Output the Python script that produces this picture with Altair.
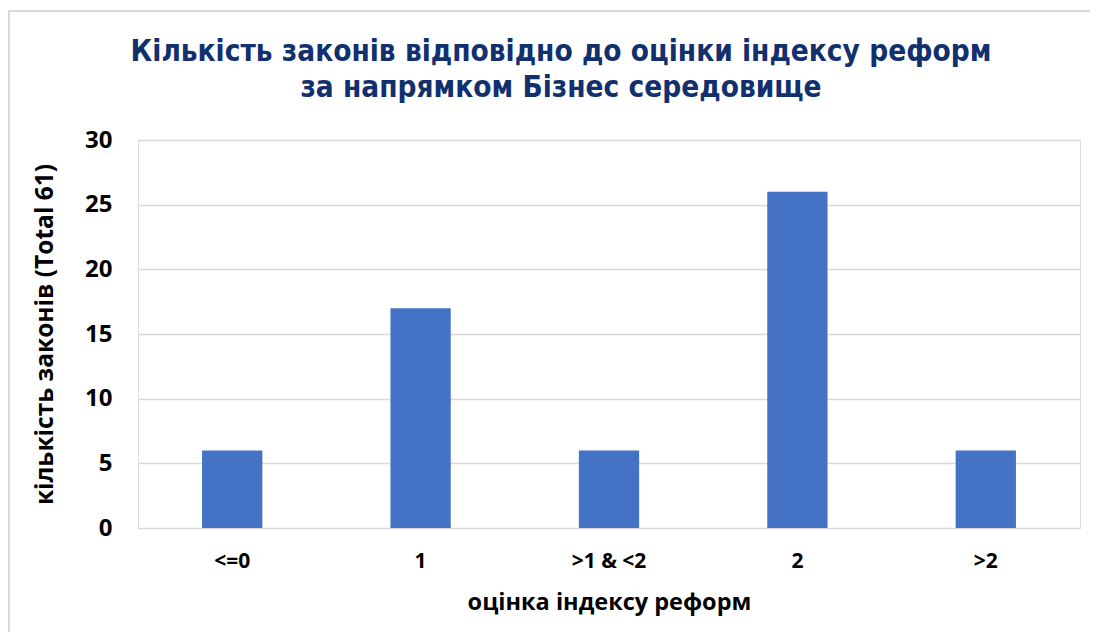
import altair as alt
import pandas as pd

categories = ["<=0", "1", ">1 & <2", "2", ">2"]
counts = [6, 17, 6, 26, 6]
title_lines = [
    "Кількість законів відповідно до оцінки індексу реформ",
    "за напрямком Бізнес середовище",
]

df = pd.DataFrame({"cat": categories, "n": counts})

LABEL_FONT = "Open Sans"
TITLE_FONT = "DejaVu Sans Condensed, Liberation Sans, sans-serif"
W, H = 942, 388
PAD = {"left": 130, "top": 132, "right": 10, "bottom": 104}

bars = alt.Chart(df).mark_bar(color="#4472C4").encode(
    x=alt.X(
        "cat:N",
        sort=categories,
        scale=alt.Scale(paddingInner=0.68, paddingOuter=0.34),
        axis=alt.Axis(
            title="оцінка індексу реформ",
            labelAngle=0,
            domain=False,
            ticks=False,
            grid=False,
            labelPadding=22,
            titlePadding=19,
            labelFont=LABEL_FONT,
            labelFontSize=21,
            labelFontWeight="bold",
            labelColor="#000000",
            titleFont=LABEL_FONT,
            titleFontSize=23.5,
            titleFontWeight="bold",
            titleColor="#000000",
        ),
    ),
    y=alt.Y(
        "n:Q",
        scale=alt.Scale(domain=[0, 30], nice=False),
        axis=alt.Axis(
            title="кількість законів (Total 61)",
            values=[0, 5, 10, 15, 20, 25, 30],
            domain=False,
            ticks=False,
            grid=True,
            gridColor="#d9d9d9",
            gridWidth=1.3,
            labelPadding=26,
            titlePadding=27,
            labelFont=LABEL_FONT,
            labelFontSize=24,
            labelFontWeight="bold",
            labelColor="#000000",
            titleFont=LABEL_FONT,
            titleFontSize=24.5,
            titleFontWeight="bold",
            titleColor="#000000",
        ),
    ),
)

border = alt.Chart(df).mark_rect(
    fill=None, stroke="#d9d9d9", strokeWidth=2
).encode(
    x=alt.value(-129),
    x2=alt.value(W + PAD["right"] + 5),
    y=alt.value(-129),
    y2=alt.value(H + PAD["bottom"] + 5),
)

title1 = alt.Chart(pd.DataFrame({"t": [title_lines[0]]})).mark_text(
    font=TITLE_FONT, fontSize=29.5, fontWeight="bold", color="#12306e",
    align="center", baseline="middle",
).encode(text="t:N", x=alt.value(423), y=alt.value(-88))

title2 = alt.Chart(pd.DataFrame({"t": [title_lines[1]]})).mark_text(
    font=TITLE_FONT, fontSize=29.5, fontWeight="bold", color="#12306e",
    align="center", baseline="middle",
).encode(text="t:N", x=alt.value(423), y=alt.value(-52))

chart = alt.layer(border, bars, title1, title2).properties(
    width=W,
    height=H,
    autosize=alt.AutoSizeParams(type="none"),
    padding=PAD,
).configure_view(strokeWidth=0).configure(background="white")

chart.save("out.html", embed_options={"renderer": "svg", "actions": False})
